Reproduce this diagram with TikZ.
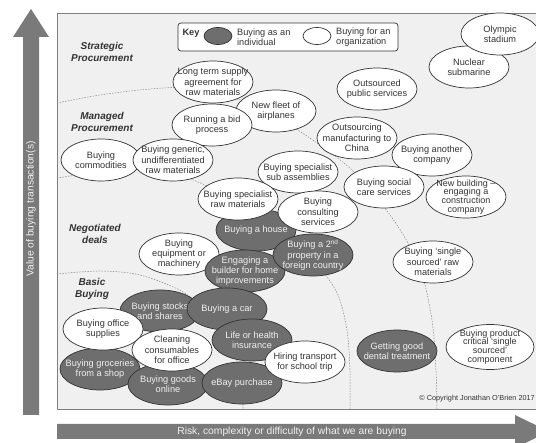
\documentclass[tikz,border=0pt]{standalone}
\usepackage{fontspec}
\setmainfont{Liberation Sans}
\usepackage{tikz}
\usetikzlibrary{shapes.geometric}
\definecolor{indivgray}{rgb}{0.43,0.43,0.43}
\definecolor{panelgray}{rgb}{0.94,0.94,0.94}
\definecolor{arrowgray}{rgb}{0.48,0.48,0.48}
\definecolor{inkgray}{rgb}{0.2,0.2,0.2}
\definecolor{dashgray}{rgb}{0.52,0.52,0.52}
\tikzstyle{every node}=[font=\fontsize{9.2}{10.3}\selectfont, align=center, inner sep=0pt]
\tikzstyle{bubble}=[ellipse, draw=inkgray, line width=0.7pt, minimum width=80, minimum height=42, inner xsep=-12pt, inner ysep=-6pt]
\tikzstyle{org}=[bubble, fill=white, text=inkgray]
\tikzstyle{indiv}=[bubble, fill=indivgray, text=white!94!black]
\tikzstyle{tight}=[font=\fontsize{9}{8.8}\selectfont]
\tikzstyle{tierlabel}=[font=\fontsize{10}{12.5}\selectfont\bfseries\itshape, text=inkgray]
\tikzstyle{axistext}=[font=\fontsize{10.3}{12}\selectfont, text=white!94!black]
\tikzstyle{boundary}=[draw=dashgray, line width=0.5pt, dash pattern=on 1.2pt off 1.6pt]

\begin{document}
\begin{tikzpicture}[line cap=round,line join=round,x=1pt,y=-1pt]
\clip (0,0) rectangle (536,443);
% axis arrows and panel
\fill[arrowgray] (23,415) -- (23,37) -- (13,37) -- (31,9) -- (49,37) -- (39,37) -- (39,415) -- cycle;
\node[axistext,rotate=90] (valueaxis) at (31,209) {Value of buying transaction(s)};
\draw[draw=gray,line width=0.6pt,fill=panelgray] (57,13) rectangle (545,409);
\fill[arrowgray] (57,424) -- (515,424) -- (515,415) -- (549,431.5) -- (515,448) -- (515,439) -- (57,439) -- cycle;
\node[axistext] (riskaxis) at (292,431.5) {Risk, complexity or difficulty of what we are buying};
% tier boundaries
\draw[boundary] plot[smooth] coordinates {(57,103) (100,95) (150,89) (190,88) (240,100) (293,127) (352,170) (395,222) (420,268) (432,320) (436,370) (437,409)};
\draw[boundary] plot[smooth] coordinates {(57,178) (100,172) (140,170) (180,176) (207,186) (250,210) (290,240) (320,268) (338,295) (347,330) (350,370) (350,409)};
\draw[boundary] plot[smooth] coordinates {(57,274) (100,271) (140,275) (183,292) (215,320) (235,355) (242,385) (243,409)};
% tier labels
\node[tierlabel] (strategic) at (102,52) {Strategic\\Procurement};
\node[tierlabel] (managed) at (102,122) {Managed\\Procurement};
\node[tierlabel] (negotiated) at (95,234) {Negotiated\\deals};
\node[tierlabel] (basic) at (92,289) {Basic\\Buying};
% key
\node[draw=inkgray, line width=0.7pt, fill=white, rounded corners=3pt, minimum width=220, minimum height=28] (keybox) at (288,37) {};
\node[font=\fontsize{9.2}{10.3}\selectfont\bfseries, text=inkgray] (keylabel) at (191,33) {Key};
\node[indiv, minimum width=28, minimum height=17] (keyindiv) at (218,36) {};
\node[anchor=west, align=left, text=inkgray] (keyindivtext) at (237,37) {Buying as an\\individual};
\node[org, minimum width=28, minimum height=17] (keyorg) at (317,36) {};
\node[anchor=west, align=left, text=inkgray] (keyorgtext) at (336,37) {Buying for an\\organization};
% strategic procurement
\node[org] (submarine) at (469,67) {Nuclear\\submarine};
\node[org, minimum width=78] (stadium) at (500,34) {Olympic\\stadium};
\node[org] (publicservices) at (377,89) {Outsourced\\public services};
\node[org] (newfleet) at (276,111) {New fleet of\\airplanes};
\node[org] (longterm) at (213,82) {Long term supply\\agreement for\\raw materials};
\node[org] (bidprocess) at (212,125) {Running a bid\\process};
% managed procurement
\node[org] (commodities) at (101,160) {Buying\\commodities};
\node[org] (generic) at (173,160) {Buying generic,\\undifferentiated\\raw materials};
\node[org] (china) at (357,138) {Outsourcing\\manufacturing to\\China};
\node[org] (company) at (432,155) {Buying another\\company};
\node[org] (subassemblies) at (298,172) {Buying specialist\\sub assemblies};
\node[org] (socialcare) at (384,187) {Buying social\\care services};
\node[org, tight] (newbuilding) at (466,197) {New building –\\engaging a\\construction\\company};
% negotiated deals
\node[indiv] (house) at (256,230) {Buying a house};
\node[org] (specialistraw) at (238,199) {Buying specialist\\raw materials};
\node[org] (equipment) at (179,254) {Buying\\equipment or\\machinery};
\node[indiv] (builder) at (245,271) {Engaging a\\builder for home\\improvements};
\node[indiv] (secondproperty) at (313,255) {Buying a 2\textsuperscript{nd}\\property in a\\foreign country};
\node[org] (consulting) at (318,212) {Buying\\consulting\\services};
\node[org] (singlesourced) at (433,262) {Buying ‘single\\sourced’ raw\\materials};
% basic buying
\node[indiv] (groceries) at (100,369) {Buying groceries\\from a shop};
\node[indiv] (goodsonline) at (168,384) {Buying goods\\online};
\node[indiv] (stocks) at (160,311) {Buying stocks\\and shares};
\node[indiv] (car) at (227,309) {Buying a car};
\node[indiv] (insurance) at (252,340) {Life or health\\insurance};
\node[indiv] (ebay) at (242,383) {eBay purchase};
\node[org] (office) at (103,329) {Buying office\\supplies};
\node[org] (cleaning) at (172,350) {Cleaning\\consumables\\for office};
\node[org] (transport) at (305,362) {Hiring transport\\for school trip};
\node[indiv] (dental) at (397,351) {Getting good\\dental treatment};
\node[org, tight, minimum width=88, minimum height=45] (critical) at (490,347) {Buying product\\critical ‘single\\sourced’\\component};
\node[anchor=east, font=\fontsize{7.3}{9}\selectfont, text=inkgray] (copyright) at (535,399) {© Copyright Jonathan O’Brien 2017};
\end{tikzpicture}
\end{document}
